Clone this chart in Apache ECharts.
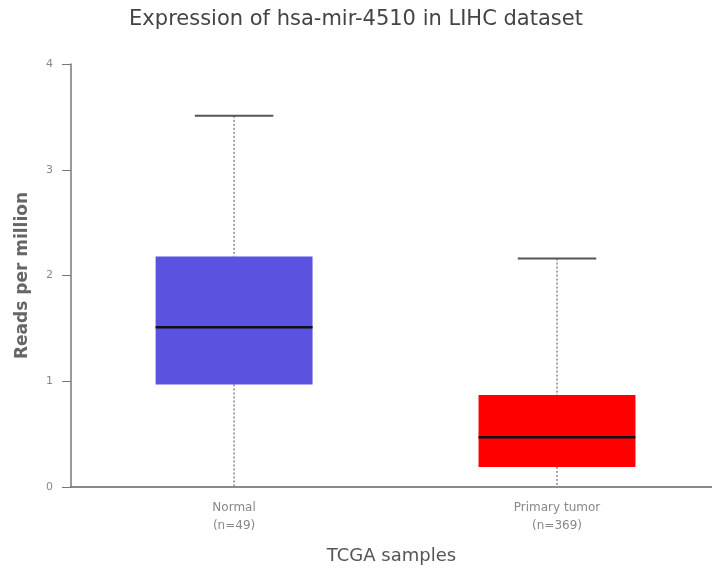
<!DOCTYPE html>
<html><head><meta charset="utf-8">
<script src="https://cdn.jsdelivr.net/npm/echarts@6/dist/echarts.min.js"></script>
<style>html,body{margin:0;padding:0;background:#fff}#c{width:712px;height:574px}</style>
</head><body><div id="c"></div>
<script>
var categories = ['Normal\n(n=49)', 'Primary tumor\n(n=369)'];
var positions = [1, 2];
// [min, Q1, median, Q3, max]
var normalStats = [0, 0.97, 1.51, 2.18, 3.51];
var tumorStats = [0, 0.19, 0.47, 0.87, 2.16];
var boxColors = ['#5b52e0', '#ff0000'];
var yTicks = [0, 1, 2, 3, 4];

var statsList = [normalStats, tumorStats];
var data = positions.map(function (p, i) {
  return [p].concat(statsList[i]).concat([i]);
});

var chart = echarts.init(document.getElementById('c'));
chart.setOption({
  animation: false,
  backgroundColor: '#fff',
  title: {
    text: 'Expression of hsa-mir-4510 in LIHC dataset',
    left: 'center', top: 4,
    textStyle: {fontFamily: 'DejaVu Sans', fontSize: 21, fontWeight: 'normal', color: '#444'}
  },
  grid: {left: 71, right: 0, top: 64, bottom: 87},
  xAxis: {
    type: 'value', min: 0.495, max: 2.48,
    name: 'TCGA samples', nameLocation: 'middle', nameGap: 60,
    nameTextStyle: {fontFamily: 'DejaVu Sans', fontSize: 18, color: '#555'},
    axisLine: {onZero: false, lineStyle: {color: '#666', width: 1.5}},
    axisTick: {show: false},
    splitLine: {show: false},
    axisLabel: {
      customValues: positions,
      formatter: function (v) { var i = positions.indexOf(v); return i >= 0 ? categories[i] : ''; },
      fontFamily: 'DejaVu Sans', fontSize: 12, color: '#888', lineHeight: 18, margin: 12
    }
  },
  yAxis: {
    type: 'value', min: 0, max: 4, interval: 1,
    name: 'Reads per million', nameLocation: 'middle', nameGap: 40,
    nameTextStyle: {fontFamily: 'DejaVu Sans', fontSize: 17, fontWeight: 'bold', color: '#666'},
    axisLine: {show: true, lineStyle: {color: '#777', width: 1.5}},
    axisTick: {show: true, length: 9, lineStyle: {color: '#777'}},
    splitLine: {show: false},
    axisLabel: {fontFamily: 'DejaVu Sans', fontSize: 11, color: '#888', margin: 18,
      formatter: function (v) { return yTicks.indexOf(v) >= 0 ? String(v) : ''; }}
  },
  series: [{
    type: 'custom',
    data: data,
    encode: {x: 0, y: [1, 2, 3, 4, 5]},
    renderItem: function (params, api) {
      var x = api.value(0);
      var idx = api.value(6);
      var halfW = api.size([0.243, 0])[0];
      var capW = halfW / 2;
      var pMin = api.coord([x, api.value(1)]);
      var pQ1 = api.coord([x, api.value(2)]);
      var pMed = api.coord([x, api.value(3)]);
      var pQ3 = api.coord([x, api.value(4)]);
      var pMax = api.coord([x, api.value(5)]);
      var cx = pMed[0];
      return {
        type: 'group',
        children: [
          {type: 'line', shape: {x1: cx, y1: pMax[1], x2: cx, y2: pQ3[1]},
            style: {stroke: '#888', lineWidth: 1.5, lineDash: [2, 2]}},
          {type: 'line', shape: {x1: cx, y1: pQ1[1], x2: cx, y2: pMin[1]},
            style: {stroke: '#888', lineWidth: 1.5, lineDash: [2, 2]}},
          {type: 'line', shape: {x1: cx - capW, y1: pMax[1], x2: cx + capW, y2: pMax[1]},
            style: {stroke: '#555', lineWidth: 2}},
          {type: 'rect', shape: {x: cx - halfW, y: pQ3[1], width: 2 * halfW, height: pQ1[1] - pQ3[1]},
            style: {fill: boxColors[idx], stroke: null}},
          {type: 'line', shape: {x1: cx - halfW, y1: pMed[1], x2: cx + halfW, y2: pMed[1]},
            style: {stroke: '#111', lineWidth: 2.5}}
        ]
      };
    }
  }]
});
</script></body></html>
